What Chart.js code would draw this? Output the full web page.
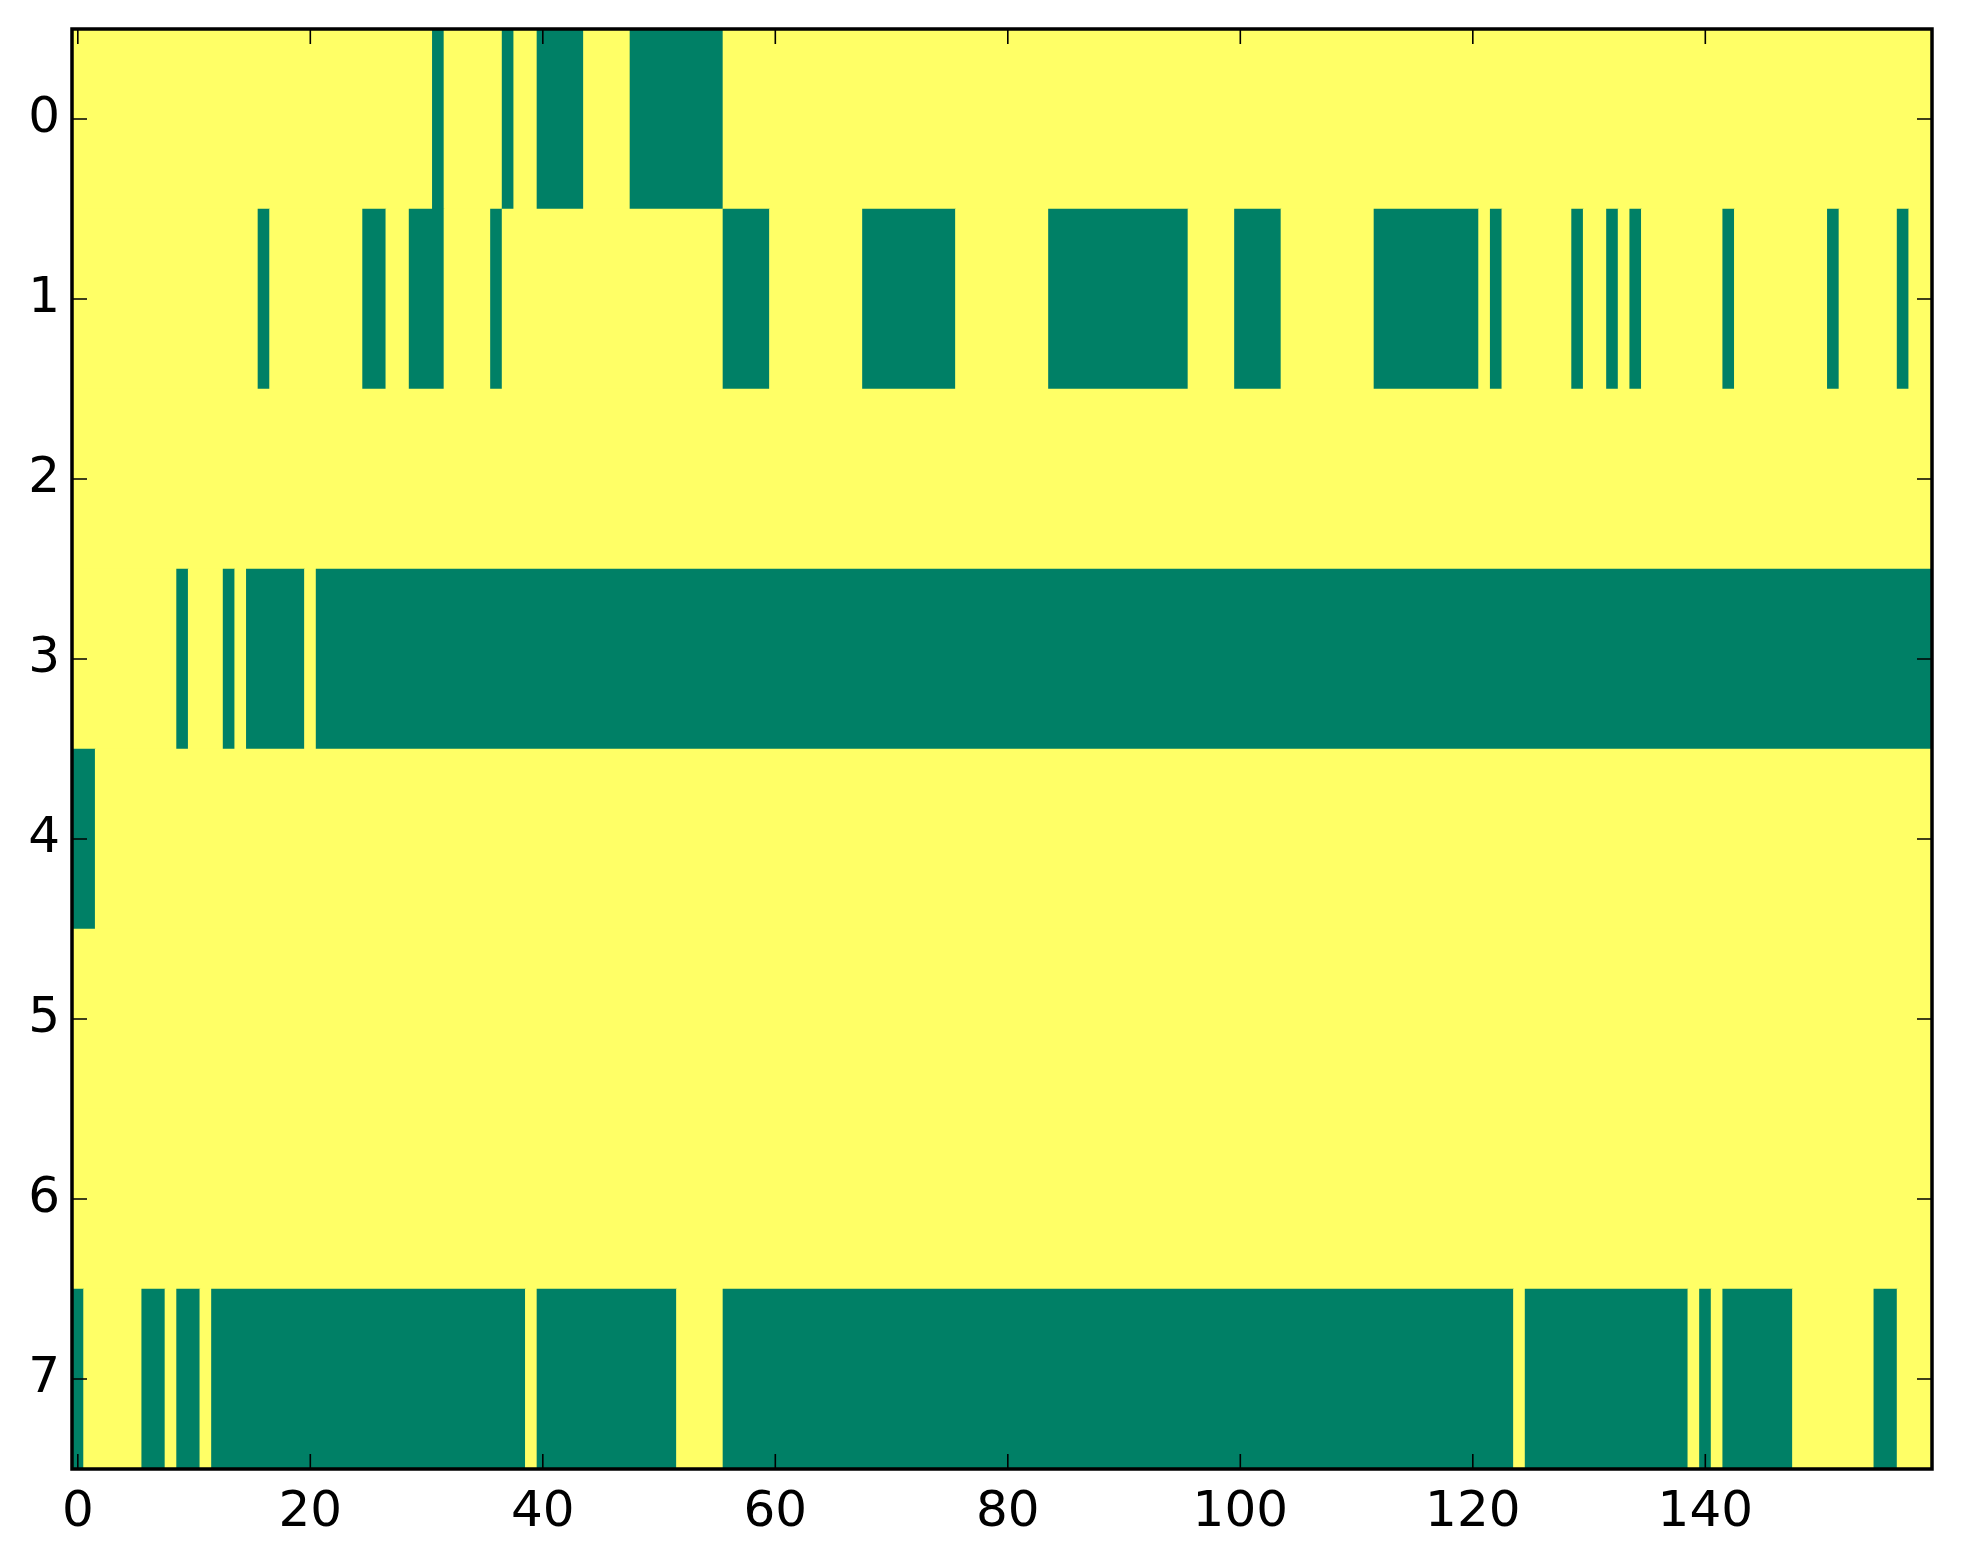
<!DOCTYPE html>
<html>
<head>
<meta charset="utf-8">
<script src="https://cdn.jsdelivr.net/npm/chart.js@4.4.1/dist/chart.umd.min.js"></script>
<style>
  html, body { margin: 0; padding: 0; background: #ffffff; }
  canvas { display: block; }
</style>
</head>
<body>
<canvas id="myChart" width="1963" height="1564"></canvas>
<script>
"use strict";

// 8 rows x 160 columns, cells are 1 (yellow) unless listed as a zero run [first, last]
let rowLabels = ["0", "1", "2", "3", "4", "5", "6", "7"];
let columnCount = 160;
let xTickValues = [0, 20, 40, 60, 80, 100, 120, 140];

let row0Zeros = [[31, 31], [37, 37], [40, 43], [48, 55]];
let row1Zeros = [[16, 16], [25, 26], [29, 31], [36, 36], [56, 59], [68, 75], [84, 95], [100, 103], [112, 120], [122, 122], [129, 129], [132, 132], [134, 134], [142, 142], [151, 151], [157, 157]];
let row2Zeros = [];
let row3Zeros = [[9, 9], [13, 13], [15, 19], [21, 159]];
let row4Zeros = [[0, 1]];
let row5Zeros = [];
let row6Zeros = [];
let row7Zeros = [[0, 0], [6, 7], [9, 10], [12, 38], [40, 51], [56, 123], [125, 138], [140, 140], [142, 147], [155, 156]];

let allRowZeros = [row0Zeros, row1Zeros, row2Zeros, row3Zeros, row4Zeros, row5Zeros, row6Zeros, row7Zeros];

let lowColor = "#008066";
let highColor = "#ffff66";

// turn each row into runs of equal value, one floating bar per run
let cellRuns = [];
for (let r = 0; r < allRowZeros.length; r++) {
  let values = [];
  for (let c = 0; c < columnCount; c++) {
    values.push(1);
  }
  for (let i = 0; i < allRowZeros[r].length; i++) {
    for (let c = allRowZeros[r][i][0]; c <= allRowZeros[r][i][1]; c++) {
      values[c] = 0;
    }
  }
  let start = 0;
  for (let c = 1; c <= columnCount; c++) {
    if (c === columnCount || values[c] !== values[start]) {
      cellRuns.push({ x: [start - 0.5, c - 0.5], y: rowLabels[r], v: values[start] });
      start = c;
    }
  }
}

// matplotlib-style frame with inward ticks on all four sides
let frameAndTicks = {
  id: "frameAndTicks",
  afterDatasetsDraw(chart) {
    let ctx = chart.ctx;
    let area = chart.chartArea;
    let xScale = chart.scales.x;
    let yScale = chart.scales.y;
    let tickLen = 15;
    ctx.save();
    ctx.strokeStyle = "#000000";
    ctx.lineWidth = 1.6;
    ctx.beginPath();
    for (let i = 0; i < xTickValues.length; i++) {
      let px = xScale.getPixelForValue(xTickValues[i]);
      ctx.moveTo(px, area.bottom);
      ctx.lineTo(px, area.bottom - tickLen);
      ctx.moveTo(px, area.top);
      ctx.lineTo(px, area.top + tickLen);
    }
    for (let i = 0; i < rowLabels.length; i++) {
      let py = yScale.getPixelForValue(i);
      ctx.moveTo(area.left, py);
      ctx.lineTo(area.left + tickLen, py);
      ctx.moveTo(area.right, py);
      ctx.lineTo(area.right - tickLen, py);
    }
    ctx.stroke();
    ctx.lineWidth = 3.5;
    ctx.strokeRect(area.left, area.top, area.right - area.left, area.bottom - area.top);
    ctx.restore();
  },
};

let ctx = document.getElementById("myChart").getContext("2d");
let myChart = new Chart(ctx, {
  type: "bar",
  data: {
    labels: rowLabels,
    datasets: [
      {
        data: cellRuns,
        backgroundColor: (c) => (c.raw && c.raw.v === 0 ? lowColor : highColor),
        borderWidth: 0,
        barPercentage: 1,
        categoryPercentage: 1,
      },
    ],
  },
  options: {
    indexAxis: "y",
    responsive: false,
    animation: false,
    devicePixelRatio: 1,
    layout: {
      padding: { left: 28, right: 31, top: 29, bottom: 0 },
    },
    plugins: {
      legend: { display: false },
      tooltip: { enabled: false },
    },
    scales: {
      x: {
        type: "linear",
        min: -0.5,
        max: columnCount - 0.5,
        grid: { display: false, drawTicks: false },
        border: { display: false },
        afterBuildTicks: (axis) => {
          axis.ticks = xTickValues.map((v) => ({ value: v }));
        },
        afterFit: (axis) => {
          axis.height = 95;
          axis.paddingLeft = 0;
          axis.paddingRight = 0;
        },
        ticks: {
          color: "#000000",
          padding: 14,
          maxRotation: 0,
          autoSkip: false,
          font: { family: "DejaVu Sans", size: 50 },
        },
      },
      y: {
        type: "category",
        offset: true,
        grid: { display: false, drawTicks: false },
        border: { display: false },
        afterFit: (axis) => {
          axis.width = 44;
          axis.paddingTop = 0;
          axis.paddingBottom = 0;
        },
        ticks: {
          color: "#000000",
          padding: 12,
          font: { family: "DejaVu Sans", size: 50 },
        },
      },
    },
  },
  plugins: [frameAndTicks],
});
</script>
</body>
</html>
